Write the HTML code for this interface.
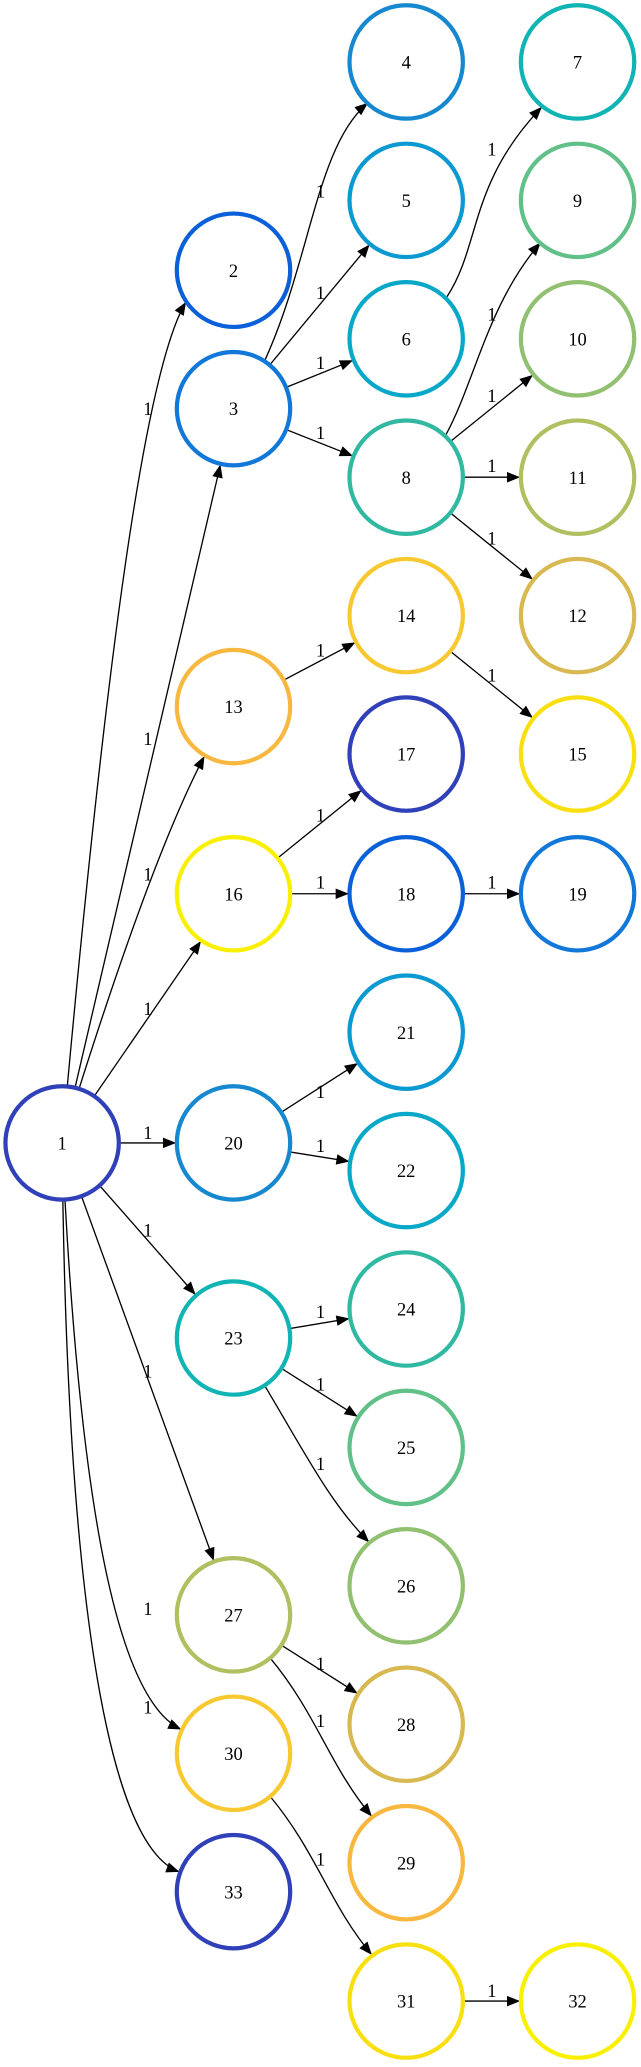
<!DOCTYPE html>
<html><head><meta charset="utf-8"><style>html,body{margin:0;padding:0;background:#fff}svg{display:block}</style></head>
<body>
<svg width="641" height="2067" viewBox="0 0 486 1568" xmlns="http://www.w3.org/2000/svg">
<defs>
<marker id="a" markerUnits="userSpaceOnUse" markerWidth="60" markerHeight="10" viewBox="0 -5 60 10" refX="53.5" refY="0" orient="auto" overflow="visible">
<path d="M0,-4 L10,0 L0,4 Z" fill="#000"/>
</marker>
<marker id="b" markerUnits="userSpaceOnUse" markerWidth="12" markerHeight="10" viewBox="0 -5 12 10" refX="10" refY="0" orient="auto" overflow="visible">
<path d="M0,-4 L10,0 L0,4 Z" fill="#000"/>
</marker>
</defs>
<g fill="none" stroke="#000" stroke-width="1" marker-end="url(#a)">
<path d="M47,867 L177,310"/>
<path d="M47,867 L177,678"/>
<path d="M47,867 L177,867"/>
<path d="M47,867 L177,1015"/>
<path d="M47,867 L177,1225"/>
<path d="M177,310 L308,152"/>
<path d="M177,310 L308,257"/>
<path d="M177,310 L308,362"/>
<path d="M308,362 L438,257"/>
<path d="M308,362 L438,362"/>
<path d="M308,362 L438,467"/>
<path d="M177,536 L308,467"/>
<path d="M308,467 L438,572"/>
<path d="M177,678 L308,572"/>
<path d="M177,678 L308,678"/>
<path d="M308,678 L438,678"/>
<path d="M177,867 L308,783"/>
<path d="M177,867 L308,888"/>
<path d="M177,1015 L308,993"/>
<path d="M177,1015 L308,1098"/>
<path d="M177,1225 L308,1308"/>
<path d="M308,1518 L438,1518"/>
</g>
<g fill="none" stroke="#000" stroke-width="1" marker-end="url(#b)">
<path d="M47,867 C80,500 110,280 141,229"/>
<path d="M47,867 C80,760 120,640 155,573.5"/>
<path d="M47,867 C60,1150 90,1290 137.5,1312"/>
<path d="M47,867 C50,1200 80,1400 136,1420"/>
<path d="M200,275 C235,200 240,110 279,78"/>
<path d="M339,225 C365,185 355,140 411,81"/>
<path d="M338,330 C360,290 370,230 410,184"/>
<path d="M200,1050 C230,1100 250,1140 280,1170"/>
<path d="M205,1258 C240,1300 250,1340 282,1378"/>
<path d="M205,1363 C240,1405 250,1445 282,1483"/>
</g>
<g fill="#fff" stroke-width="3.2">
<circle cx="47" cy="867" r="43" stroke="#3040b8"/>
<circle cx="177" cy="205" r="43" stroke="#0a60d8"/>
<circle cx="177" cy="310" r="43" stroke="#1177d8"/>
<circle cx="308" cy="47" r="43" stroke="#1588d0"/>
<circle cx="308" cy="152" r="43" stroke="#0a99d0"/>
<circle cx="308" cy="257" r="43" stroke="#0aa8c8"/>
<circle cx="438" cy="47" r="43" stroke="#10b4b4"/>
<circle cx="308" cy="362" r="43" stroke="#30b8a0"/>
<circle cx="438" cy="152" r="43" stroke="#60c088"/>
<circle cx="438" cy="257" r="43" stroke="#90c070"/>
<circle cx="438" cy="362" r="43" stroke="#b0c060"/>
<circle cx="438" cy="467" r="43" stroke="#d8b850"/>
<circle cx="177" cy="536" r="43" stroke="#f8b840"/>
<circle cx="308" cy="467" r="43" stroke="#f8c830"/>
<circle cx="438" cy="572" r="43" stroke="#f8e010"/>
<circle cx="177" cy="678" r="43" stroke="#f8f000"/>
<circle cx="308" cy="572" r="43" stroke="#3040b8"/>
<circle cx="308" cy="678" r="43" stroke="#0a60d8"/>
<circle cx="438" cy="678" r="43" stroke="#1177d8"/>
<circle cx="177" cy="867" r="43" stroke="#1588d0"/>
<circle cx="308" cy="783" r="43" stroke="#0a99d0"/>
<circle cx="308" cy="888" r="43" stroke="#0aa8c8"/>
<circle cx="177" cy="1015" r="43" stroke="#10b4b4"/>
<circle cx="308" cy="993" r="43" stroke="#30b8a0"/>
<circle cx="308" cy="1098" r="43" stroke="#60c088"/>
<circle cx="308" cy="1203" r="43" stroke="#90c070"/>
<circle cx="177" cy="1225" r="43" stroke="#b0c060"/>
<circle cx="308" cy="1308" r="43" stroke="#d8b850"/>
<circle cx="308" cy="1413" r="43" stroke="#f8b840"/>
<circle cx="177" cy="1330" r="43" stroke="#f8c830"/>
<circle cx="308" cy="1518" r="43" stroke="#f8e010"/>
<circle cx="438" cy="1518" r="43" stroke="#f8f000"/>
<circle cx="177" cy="1435" r="43" stroke="#3040b8"/>
</g>
<g font-family="Liberation Serif, serif" font-size="14" text-anchor="middle" fill="#000">
<text x="47" y="872">1</text><text x="177" y="210">2</text><text x="177" y="315">3</text>
<text x="308" y="52">4</text><text x="308" y="157">5</text><text x="308" y="262">6</text>
<text x="438" y="52">7</text><text x="308" y="367">8</text><text x="438" y="157">9</text>
<text x="438" y="262">10</text><text x="438" y="367">11</text><text x="438" y="472">12</text>
<text x="177" y="541">13</text><text x="308" y="472">14</text><text x="438" y="577">15</text>
<text x="177" y="683">16</text><text x="308" y="577">17</text><text x="308" y="683">18</text>
<text x="438" y="683">19</text><text x="177" y="872">20</text><text x="308" y="788">21</text>
<text x="308" y="893">22</text><text x="177" y="1020">23</text><text x="308" y="998">24</text>
<text x="308" y="1103">25</text><text x="308" y="1208">26</text><text x="177" y="1230">27</text>
<text x="308" y="1313">28</text><text x="308" y="1418">29</text><text x="177" y="1335">30</text>
<text x="308" y="1523">31</text><text x="438" y="1523">32</text><text x="177" y="1440">33</text>
</g>
<g font-family="Liberation Serif, serif" font-size="14" text-anchor="middle" fill="#000">
<text x="112" y="315">1</text><text x="112" y="565">1</text><text x="112" y="668">1</text>
<text x="112" y="770">1</text><text x="112" y="864">1</text><text x="112" y="938">1</text>
<text x="112" y="1045">1</text><text x="112" y="1225">1</text><text x="112" y="1300">1</text>
<text x="243" y="150">1</text><text x="243" y="227">1</text><text x="243" y="280">1</text>
<text x="243" y="333">1</text><text x="373" y="118">1</text><text x="373" y="243">1</text>
<text x="373" y="305">1</text><text x="373" y="358">1</text><text x="373" y="413">1</text>
<text x="243" y="498">1</text><text x="373" y="517">1</text><text x="243" y="623">1</text>
<text x="243" y="674">1</text><text x="373" y="674">1</text><text x="243" y="833">1</text>
<text x="243" y="874">1</text><text x="243" y="1000">1</text><text x="243" y="1055">1</text>
<text x="243" y="1115">1</text><text x="243" y="1267">1</text><text x="243" y="1310">1</text>
<text x="243" y="1415">1</text><text x="373" y="1515">1</text>
</g>
</svg>
</body></html>
